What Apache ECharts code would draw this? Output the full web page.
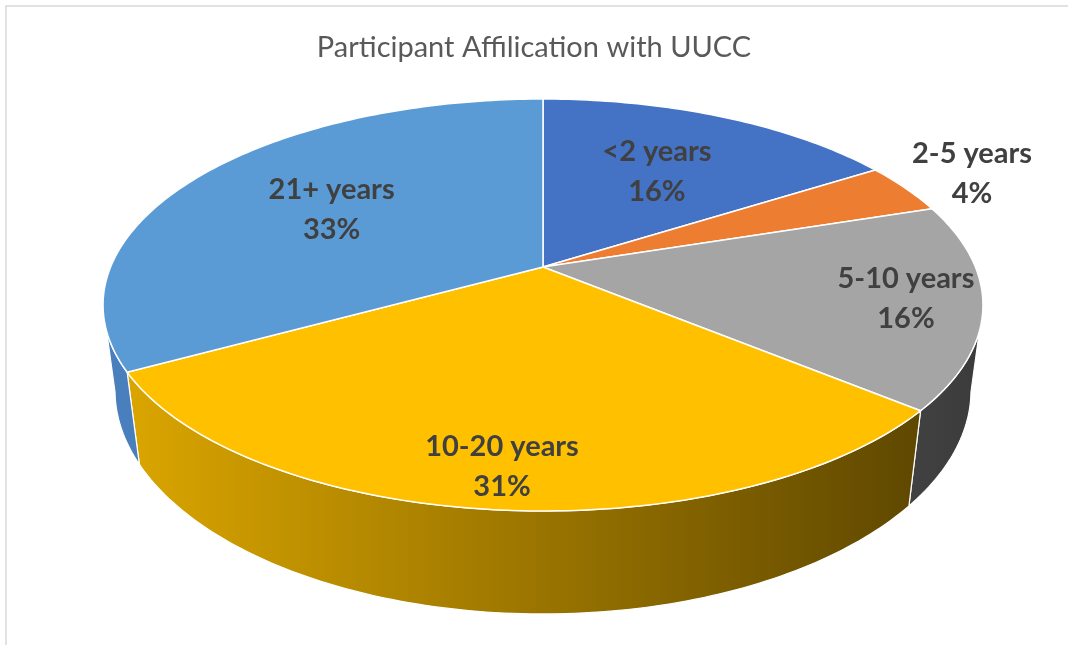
<!DOCTYPE html>
<html>
<head>
<meta charset="utf-8">
<script src="https://cdn.jsdelivr.net/npm/echarts@6/dist/echarts.min.js"></script>
<style>
  html, body { margin: 0; padding: 0; background: #fff; }
  #main { width: 1068px; height: 645px; }
</style>
</head>
<body>
<div id="main"></div>
<script>
const categories = ['<2 years', '2-5 years', '5-10 years', '10-20 years', '21+ years'];
const shares = [16, 4, 16, 31, 33];
const topColors = ['#4472C4', '#ED7D31', '#A5A5A5', '#FFC000', '#5B9BD5'];
// side colours, left -> right across the whole pie
const sideColors = [
    ['#3A64AE', '#2A4A80'],
    ['#C8621E', '#8A4210'],
    ['#8a8a8a', '#3b3b3b'],
    ['#DEA800', '#554000'],
    ['#4A80BE', '#2E5580']
];
// how far out (fraction of radius) each label sits
const labelDist = [0.6, 1.2, 0.83, 0.85, 0.6];

// projection of the tilted disc (perspective homography)
const CX = 543, K = 432.4, A = 149.7, B = 267, C = -0.1845;
const H = 84, VPY = 3500;
const total = shares.reduce((a, b) => a + b, 0);

function proj(theta, r) {
    const u = r * Math.sin(theta), v = -r * Math.cos(theta);
    const den = 1 + C * v;
    return [CX + K * u / den, (A * v + B) / den, den];
}
function projBottom(theta) {
    const p = proj(theta, 1);
    const d = H / p[2];
    return [p[0] + (CX - p[0]) * d / (VPY - p[1]), p[1] + d];
}
function arc(a0, a1, fn) {
    const pts = [];
    const n = Math.max(2, Math.ceil((a1 - a0) / (Math.PI / 180)));
    for (let i = 0; i <= n; i++) pts.push(fn(a0 + (a1 - a0) * i / n));
    return pts;
}
function sliceAngles(idx) {
    let before = 0;
    for (let i = 0; i < idx; i++) before += shares[i];
    return [before / total * Math.PI * 2, (before + shares[idx]) / total * Math.PI * 2];
}

const visR = Math.acos(C), visL = Math.PI * 2 - Math.acos(C);

var myChart = echarts.init(document.getElementById('main'));
var option = {
    backgroundColor: '#fff',
    title: {
        text: 'Participant Affilication with UUCC',
        left: 'center',
        top: 28,
        textStyle: { fontFamily: 'Lato', fontSize: 29, fontWeight: 'normal', color: '#595959' }
    },
    graphic: [{
        type: 'rect',
        shape: { x: 6, y: 6, width: 1100, height: 700 },
        style: { fill: 'none', stroke: '#d9d9d9', lineWidth: 1.5 },
        silent: true
    }],
    series: [
        {
            type: 'custom',
            name: 'sides',
            coordinateSystem: 'none',
            z: 1,
            data: shares,
            renderItem: function (params, api) {
                const ang = sliceAngles(params.dataIndex);
                const a0 = Math.max(ang[0], visR), a1 = Math.min(ang[1], visL);
                if (a1 <= a0) return { type: 'group', children: [] };
                const top = arc(a0, a1, t => proj(t, 1).slice(0, 2));
                const bot = arc(a0, a1, projBottom).reverse();
                const sc = sideColors[params.dataIndex];
                return {
                    type: 'polygon',
                    shape: { points: top.concat(bot) },
                    style: {
                        fill: new echarts.graphic.LinearGradient(103, 0, 982, 0, [
                            { offset: 0, color: sc[0] }, { offset: 1, color: sc[1] }
                        ], true),
                        stroke: '#fff',
                        lineWidth: 1.2
                    }
                };
            }
        },
        {
            type: 'custom',
            name: 'tops',
            coordinateSystem: 'none',
            z: 2,
            data: shares,
            renderItem: function (params, api) {
                const i = params.dataIndex;
                const ang = sliceAngles(i);
                const pts = [proj(0, 0).slice(0, 2)].concat(arc(ang[0], ang[1], t => proj(t, 1).slice(0, 2)));
                const mid = (ang[0] + ang[1]) / 2;
                const lp = proj(mid, labelDist[i]);
                const pct = Math.round(api.value(0) / total * 100) + '%';
                return {
                    type: 'group',
                    children: [
                        {
                            type: 'polygon',
                            shape: { points: pts },
                            style: { fill: topColors[i], stroke: '#fff', lineWidth: 1.5 }
                        },
                        {
                            type: 'text',
                            x: lp[0],
                            y: lp[1],
                            style: {
                                text: categories[i] + '\n' + pct,
                                fill: '#404040',
                                fontFamily: 'Lato',
                                fontSize: 29,
                                fontWeight: 'bold',
                                lineHeight: 40,
                                align: 'center',
                                verticalAlign: 'middle'
                            }
                        }
                    ]
                };
            }
        }
    ]
};
option && myChart.setOption(option);
</script>
</body>
</html>
